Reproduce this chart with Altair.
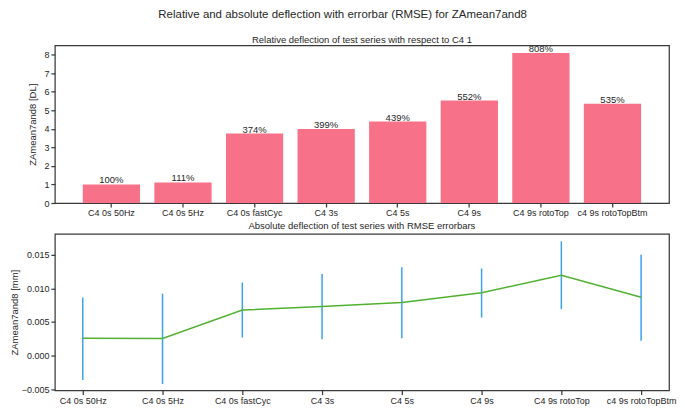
import altair as alt
import pandas as pd

cats = ["C4 0s 50Hz", "C4 0s 5Hz", "C4 0s fastCyc", "C4 3s", "C4 5s",
        "C4 9s", "C4 9s rotoTop", "c4 9s rotoTopBtm"]
rel = [1.00, 1.11, 3.74, 3.99, 4.39, 5.52, 8.08, 5.35]
rel_labels = ["100%", "111%", "374%", "399%", "439%", "552%", "808%", "535%"]
abs_mean = [0.00256, 0.00253, 0.00677, 0.00730, 0.00789, 0.00935, 0.01193, 0.00867]
abs_lo = [-0.00365, -0.00424, 0.00268, 0.00243, 0.00258, 0.00565, 0.00691, 0.00219]
abs_hi = [0.00862, 0.00920, 0.01086, 0.01212, 0.01315, 0.01295, 0.01699, 0.01500]
top_ticks = [0, 1, 2, 3, 4, 5, 6, 7, 8]
bottom_ticks = [-0.005, 0.0, 0.005, 0.010, 0.015]

FONT = "Liberation Sans"
TXT = "#262626"
W = 616
H1 = 158
H2 = 157

df1 = pd.DataFrame({"cat": cats, "val": rel, "lbl": rel_labels})
df2 = pd.DataFrame({"cat": cats, "mean": abs_mean, "lo": abs_lo, "hi": abs_hi})

xband = alt.X("cat:N", sort=cats,
              scale=alt.Scale(paddingInner=0.2, paddingOuter=0.39),
              axis=alt.Axis(title=None, labelAngle=0))
top_scale = alt.Scale(domain=[0, 8.484], nice=False)
top_axis = alt.Axis(values=top_ticks, title="ZAmean7and8 [DL]",
                    titleX=-17, titleY=H1 / 2)

top_base = alt.Chart(df1)
bars = top_base.mark_bar(color="#f77189").encode(
    x=xband, y=alt.Y("val:Q", scale=top_scale, axis=top_axis))
texts = top_base.mark_text(baseline="alphabetic", dy=-1, fontSize=9.5, font=FONT,
                           color=TXT).encode(
    x=xband, y=alt.Y("val:Q", scale=top_scale, axis=top_axis), text="lbl:N")
top = (bars + texts).properties(
    width=W, height=H1,
    title=alt.TitleParams("Relative deflection of test series with respect to C4 1",
                          fontSize=9.5, font=FONT, fontWeight="normal",
                          anchor="middle", frame="group", offset=0, color=TXT))

xpt = alt.X("cat:N", sort=cats, scale=alt.Scale(type="point", padding=0.35),
            axis=alt.Axis(title=None, labelAngle=0))
bot_scale = alt.Scale(domain=[-0.0052, 0.0181], nice=False, zero=False)
bot_axis = alt.Axis(values=bottom_ticks, format=".3f", title="ZAmean7and8 [mm]")

bottom_base = alt.Chart(df2)
rules = bottom_base.mark_rule(color="#3ba3ec", strokeWidth=1.5).encode(
    x=xpt, y=alt.Y("lo:Q", scale=bot_scale, axis=bot_axis), y2="hi:Q")
line = bottom_base.mark_line(color="#50b131", strokeWidth=1.5).encode(
    x=xpt, y=alt.Y("mean:Q", scale=bot_scale, axis=bot_axis))
bottom = (rules + line).properties(
    width=W, height=H2,
    title=alt.TitleParams("Absolute deflection of test series with RMSE errorbars",
                          fontSize=9.5, font=FONT, fontWeight="normal",
                          anchor="middle", frame="group", offset=3, color=TXT))

chart = alt.vconcat(
    top, bottom, spacing=31, bounds="flush",
    title=alt.TitleParams("Relative and absolute deflection with errorbar (RMSE) for ZAmean7and8",
                          fontSize=11.5, font=FONT, fontWeight="normal",
                          anchor="middle", offset=13, color=TXT),
).properties(
    padding={"left": 0, "top": 0, "right": 0, "bottom": 0}
).configure_view(
    stroke="#3a3a3a", strokeWidth=1.25
).configure_axis(
    domain=False, grid=False, labelFont=FONT, labelFontSize=9, labelColor=TXT,
    labelPadding=2, tickSize=4, tickColor="#3a3a3a", tickWidth=1.25,
    titleFont=FONT, titleFontSize=9.5, titleFontWeight="normal", titleColor=TXT,
    titlePadding=2, labelOverlap=False
)

chart.save("out.html", embed_options={"renderer": "svg", "actions": False})
